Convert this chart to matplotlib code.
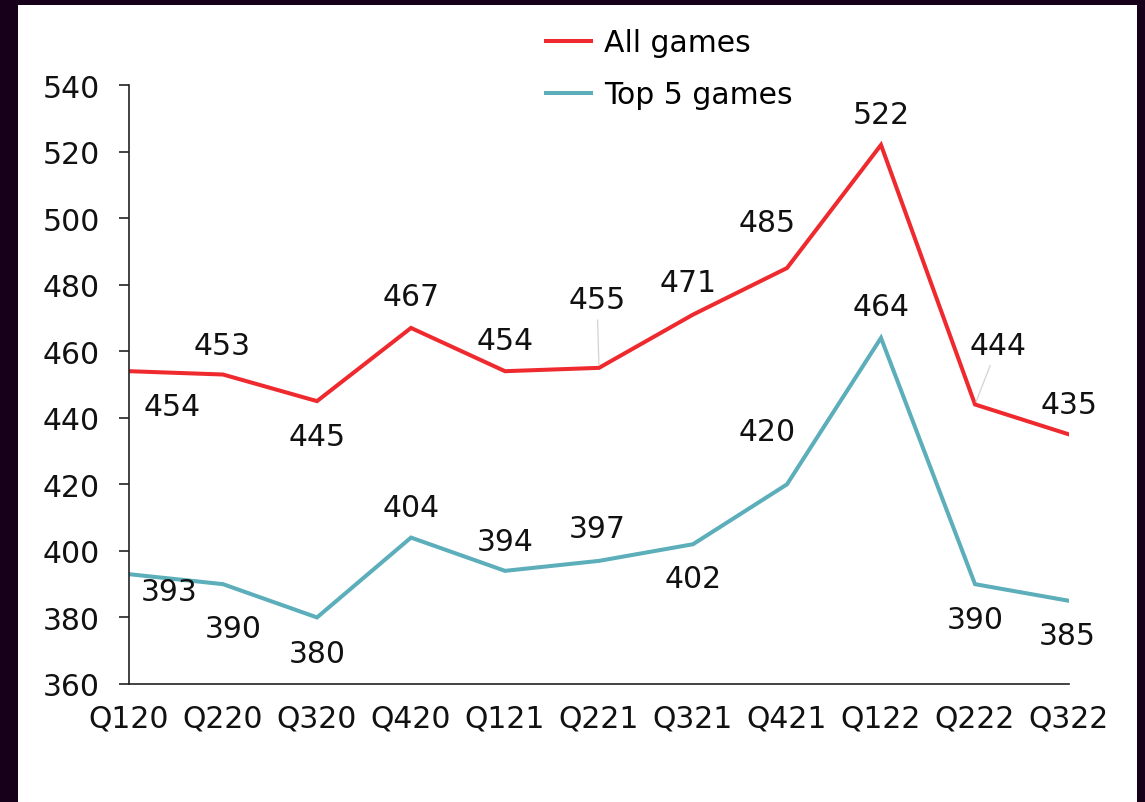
import matplotlib.pyplot as plt
from matplotlib.patches import Rectangle

# quarterly values
quarters = ['Q120', 'Q220', 'Q320', 'Q420', 'Q121', 'Q221', 'Q321', 'Q421', 'Q122', 'Q222', 'Q322']
all_games = [454, 453, 445, 467, 454, 455, 471, 485, 522, 444, 435]
top5_games = [393, 390, 380, 404, 394, 397, 402, 420, 464, 390, 385]

# label offsets in pixels (dx, dy) from each point
all_offsets = [(43, -35), (-1, 29), (0, -35), (0, 31), (0, 31), (-2, 68),
               (-5, 32), (-20, 46), (0, 30), (23, 59), (0, 30)]
top5_offsets = [(40, -17), (10, -44), (0, -36), (0, 30), (0, 29), (-2, 32),
                (0, -34), (-20, 53), (0, 31), (0, -35), (-2, -35)]
leader_idx = [5, 9]

RED = '#EE2A2F'
TEAL = '#5BAEBA'
FS = 21.5

plt.rcParams['font.family'] = ['DejaVu Sans']
plt.rcParams['font.size'] = FS

fig = plt.figure(figsize=(11.45, 8.03), dpi=100, facecolor='#16001A')
W, H = 1145, 803
fig.patches.append(Rectangle((18 / W, 0), (1137 - 18) / W, (803 - 6) / H,
                             transform=fig.transFigure, facecolor='white',
                             edgecolor='none', zorder=-10))

ax = fig.add_axes([129 / W, (H - 685) / H, (1069 - 129) / W, (685 - 86) / H])
ax.set_facecolor('none')
ax.set_zorder(1)
x = list(range(len(quarters)))
ax.plot(x, all_games, color=RED, lw=2.9, label='All games', solid_joinstyle='miter')
ax.plot(x, top5_games, color=TEAL, lw=2.9, label='Top 5 games', solid_joinstyle='miter')

def label_series(vals, offsets, leaders=()):
    for i, (v, off) in enumerate(zip(vals, offsets)):
        kw = {}
        if i in leaders:
            kw['arrowprops'] = dict(arrowstyle='-', color='#d3d3d3', lw=0.9,
                                    shrinkA=2, shrinkB=2)
        ax.annotate(str(v), (i, v), xytext=off, textcoords='offset pixels',
                    ha='center', va='center', fontsize=FS, color='#111111', **kw)

label_series(all_games, all_offsets, leader_idx)
label_series(top5_games, top5_offsets)

ax.set_xlim(0, 10)
ax.set_ylim(360, 540)
ax.set_yticks(range(360, 541, 20))
ax.set_xticks(x)
ax.set_xticklabels(quarters)
for s in ['top', 'right']:
    ax.spines[s].set_visible(False)
for s in ['left', 'bottom']:
    ax.spines[s].set_color('#222222')
    ax.spines[s].set_linewidth(1.2)
ax.tick_params(axis='y', length=7, width=1.2, color='#222222', pad=14, labelcolor='#111111')
ax.tick_params(axis='x', length=0, pad=14, labelcolor='#111111')

fig.legend(loc='upper left', bbox_to_anchor=(546 / W, (H - 29) / H), frameon=False,
           handlelength=1.5, handletextpad=0.45, labelspacing=0.78,
           borderpad=0, borderaxespad=0, fontsize=FS)

fig.savefig('out.png', dpi=100, facecolor=fig.get_facecolor())
